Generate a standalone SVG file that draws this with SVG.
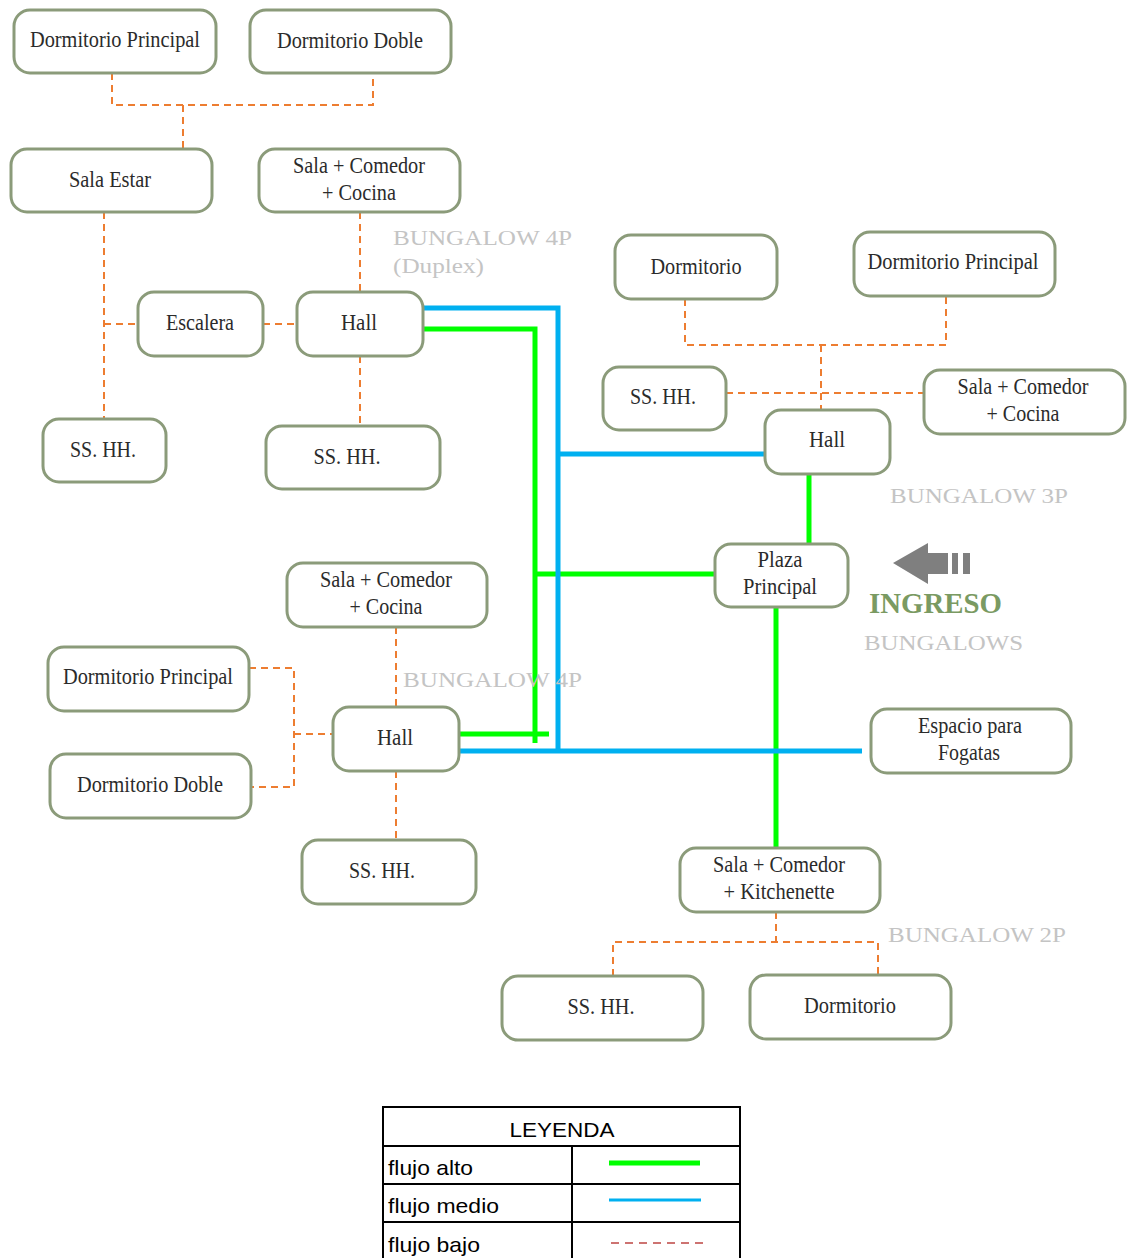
<svg xmlns="http://www.w3.org/2000/svg" width="1128" height="1258" viewBox="0 0 1128 1258">
<style>
.box{fill:#fff;stroke:#8b9b7a;stroke-width:3}
.t{font-family:"Liberation Serif",serif;font-size:24px;fill:#2b2b2b;text-anchor:middle}
.lab{font-family:"Liberation Serif",serif;font-size:22px;fill:#c4c4c4}
.low{fill:none;stroke:#ed7d31;stroke-width:2;stroke-dasharray:7 5}
.high{fill:none;stroke:#00ff00;stroke-width:5}
.mid{fill:none;stroke:#00b0f0;stroke-width:5}
.lg{font-family:"Liberation Sans",sans-serif;font-size:21px;fill:#000}
</style>
<rect width="1128" height="1258" fill="#fff"/>
<g id="connectors">
<path class="low" d="M112 73V105H373V73M183 105V149"/>
<path class="low" d="M104 212V419M104 324H138"/>
<path class="low" d="M263 324H297"/>
<path class="low" d="M360 212V292M360 356V426"/>
<path class="low" d="M685 299V345H946V296M821 345V410M726 393H924"/>
<path class="low" d="M396 627V707M396 771V840"/>
<path class="low" d="M249 668H294V787H251M294 734H333"/>
<path class="low" d="M776 912V942M613 976V942H878V975"/>
<path class="high" d="M424 329H535V743"/>
<path class="high" d="M535 574H715"/>
<path class="high" d="M809 474V544"/>
<path class="high" d="M776 607V848"/>
<path class="high" d="M460 734H549"/>
<path class="mid" d="M424 308H558V752"/>
<path class="mid" d="M558 454H765"/>
<path class="mid" d="M460 751H862"/>
</g>
<g id="n1"><rect class="box" x="14" y="10" width="202" height="63" rx="16"/><text class="t" x="115" y="47" textLength="170" lengthAdjust="spacingAndGlyphs">Dormitorio Principal</text></g>
<g id="n2"><rect class="box" x="250" y="10" width="201" height="63" rx="16"/><text class="t" x="350" y="48" textLength="146" lengthAdjust="spacingAndGlyphs">Dormitorio Doble</text></g>
<g id="n3"><rect class="box" x="11" y="149" width="201" height="63" rx="16"/><text class="t" x="110" y="187" textLength="82" lengthAdjust="spacingAndGlyphs">Sala Estar</text></g>
<g id="n4"><rect class="box" x="259" y="149" width="201" height="63" rx="16"/><text class="t" x="359" y="173" textLength="132" lengthAdjust="spacingAndGlyphs">Sala + Comedor</text><text class="t" x="359" y="200" textLength="74" lengthAdjust="spacingAndGlyphs">+ Cocina</text></g>
<g id="n5"><rect class="box" x="138" y="292" width="125" height="64" rx="16"/><text class="t" x="200" y="330" textLength="68" lengthAdjust="spacingAndGlyphs">Escalera</text></g>
<g id="n6"><rect class="box" x="297" y="292" width="126" height="64" rx="16"/><text class="t" x="359" y="330" textLength="36" lengthAdjust="spacingAndGlyphs">Hall</text></g>
<g id="n7"><rect class="box" x="43" y="419" width="123" height="63" rx="16"/><text class="t" x="103" y="457" textLength="66" lengthAdjust="spacingAndGlyphs">SS. HH.</text></g>
<g id="n8"><rect class="box" x="266" y="426" width="174" height="63" rx="16"/><text class="t" x="347" y="464" textLength="67" lengthAdjust="spacingAndGlyphs">SS. HH.</text></g>
<g id="n9"><rect class="box" x="615" y="235" width="162" height="64" rx="16"/><text class="t" x="696" y="274" textLength="91" lengthAdjust="spacingAndGlyphs">Dormitorio</text></g>
<g id="n10"><rect class="box" x="854" y="232" width="201" height="64" rx="16"/><text class="t" x="953" y="269" textLength="171" lengthAdjust="spacingAndGlyphs">Dormitorio Principal</text></g>
<g id="n11"><rect class="box" x="603" y="367" width="123" height="63" rx="16"/><text class="t" x="663" y="404" textLength="66" lengthAdjust="spacingAndGlyphs">SS. HH.</text></g>
<g id="n12"><rect class="box" x="924" y="370" width="201" height="64" rx="16"/><text class="t" x="1023" y="394" textLength="131" lengthAdjust="spacingAndGlyphs">Sala + Comedor</text><text class="t" x="1023" y="421" textLength="73" lengthAdjust="spacingAndGlyphs">+ Cocina</text></g>
<g id="n13"><rect class="box" x="765" y="410" width="125" height="64" rx="16"/><text class="t" x="827" y="447" textLength="36" lengthAdjust="spacingAndGlyphs">Hall</text></g>
<g id="n14"><rect class="box" x="715" y="544" width="133" height="63" rx="16"/><text class="t" x="780" y="567" textLength="45" lengthAdjust="spacingAndGlyphs">Plaza</text><text class="t" x="780" y="594" textLength="74" lengthAdjust="spacingAndGlyphs">Principal</text></g>
<g id="n15"><rect class="box" x="287" y="563" width="200" height="64" rx="16"/><text class="t" x="386" y="587" textLength="132" lengthAdjust="spacingAndGlyphs">Sala + Comedor</text><text class="t" x="386" y="614" textLength="73" lengthAdjust="spacingAndGlyphs">+ Cocina</text></g>
<g id="n16"><rect class="box" x="48" y="647" width="201" height="64" rx="16"/><text class="t" x="148" y="684" textLength="170" lengthAdjust="spacingAndGlyphs">Dormitorio Principal</text></g>
<g id="n17"><rect class="box" x="50" y="754" width="201" height="64" rx="16"/><text class="t" x="150" y="792" textLength="146" lengthAdjust="spacingAndGlyphs">Dormitorio Doble</text></g>
<g id="n18"><rect class="box" x="333" y="707" width="126" height="64" rx="16"/><text class="t" x="395" y="745" textLength="36" lengthAdjust="spacingAndGlyphs">Hall</text></g>
<g id="n19"><rect class="box" x="302" y="840" width="174" height="64" rx="16"/><text class="t" x="382" y="878" textLength="66" lengthAdjust="spacingAndGlyphs">SS. HH.</text></g>
<g id="n20"><rect class="box" x="871" y="709" width="200" height="64" rx="16"/><text class="t" x="970" y="733" textLength="104" lengthAdjust="spacingAndGlyphs">Espacio para</text><text class="t" x="969" y="760" textLength="62" lengthAdjust="spacingAndGlyphs">Fogatas</text></g>
<g id="n21"><rect class="box" x="680" y="848" width="200" height="64" rx="16"/><text class="t" x="779" y="872" textLength="132" lengthAdjust="spacingAndGlyphs">Sala + Comedor</text><text class="t" x="779" y="899" textLength="111" lengthAdjust="spacingAndGlyphs">+ Kitchenette</text></g>
<g id="n22"><rect class="box" x="502" y="976" width="201" height="64" rx="16"/><text class="t" x="601" y="1014" textLength="67" lengthAdjust="spacingAndGlyphs">SS. HH.</text></g>
<g id="n23"><rect class="box" x="750" y="975" width="201" height="64" rx="16"/><text class="t" x="850" y="1013" textLength="92" lengthAdjust="spacingAndGlyphs">Dormitorio</text></g>
<g id="labels">
<text class="lab" x="393" y="245" textLength="179" lengthAdjust="spacingAndGlyphs">BUNGALOW 4P</text>
<text class="lab" x="393" y="273" textLength="91" lengthAdjust="spacingAndGlyphs">(Duplex)</text>
<text class="lab" x="890" y="503" textLength="178" lengthAdjust="spacingAndGlyphs">BUNGALOW 3P</text>
<text class="lab" x="403" y="687" textLength="179" lengthAdjust="spacingAndGlyphs">BUNGALOW 4P</text>
<text class="lab" x="888" y="942" textLength="178" lengthAdjust="spacingAndGlyphs">BUNGALOW 2P</text>
<text class="lab" x="864" y="650" textLength="159" lengthAdjust="spacingAndGlyphs">BUNGALOWS</text>
<text x="869" y="613" font-family="Liberation Serif,serif" font-size="29" font-weight="bold" fill="#7a9a62" textLength="133" lengthAdjust="spacingAndGlyphs">INGRESO</text>
</g>
<g id="ingreso-arrow" fill="#7f7f7f">
<polygon points="893,563 928,543 928,553 948,553 948,574 928,574 928,584"/>
<rect x="952" y="553" width="6" height="21"/>
<rect x="963" y="553" width="7" height="21"/>
</g>
<g id="legend">
<rect x="383" y="1107" width="357" height="160" fill="#fff" stroke="#000" stroke-width="2"/>
<path d="M383 1146H740M383 1184H740M383 1222H740M572 1146V1258" stroke="#000" stroke-width="2" fill="none"/>
<text class="lg" x="562" y="1137" text-anchor="middle" textLength="105" lengthAdjust="spacingAndGlyphs">LEYENDA</text>
<text class="lg" x="388" y="1175" textLength="85" lengthAdjust="spacingAndGlyphs">flujo alto</text>
<text class="lg" x="388" y="1213" textLength="111" lengthAdjust="spacingAndGlyphs">flujo medio</text>
<text class="lg" x="388" y="1252" textLength="92" lengthAdjust="spacingAndGlyphs">flujo bajo</text>
<path d="M609 1163H700" stroke="#00ff00" stroke-width="5"/>
<path d="M609 1200H701" stroke="#00b0f0" stroke-width="3"/>
<path d="M611 1243H705" stroke="#c0504d" stroke-width="2" stroke-dasharray="8 6" stroke-opacity="0.8"/>
</g>
</svg>
